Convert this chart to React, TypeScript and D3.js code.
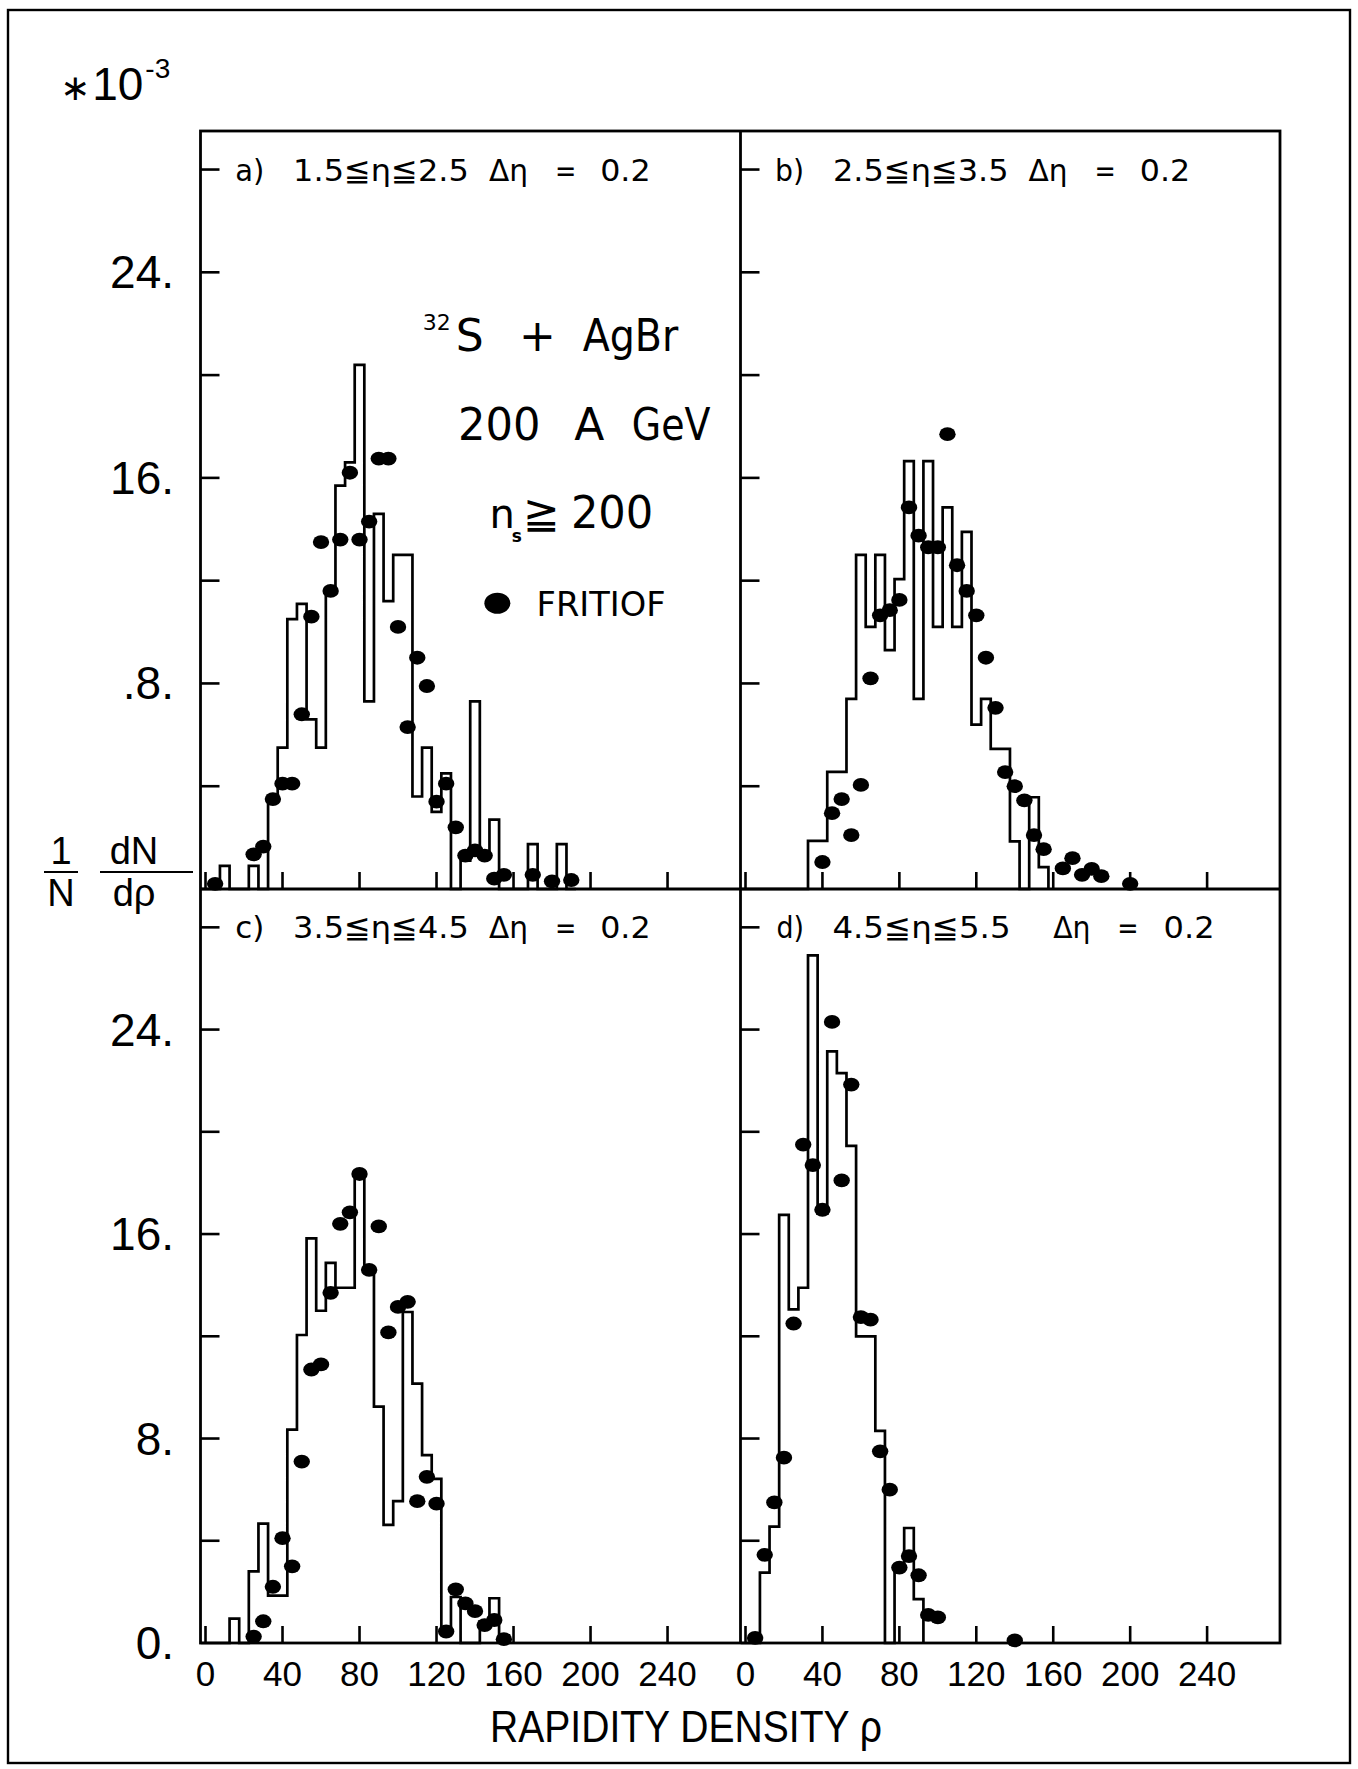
import React from 'react';
import * as d3 from 'd3';

// ---------------- data ----------------
const BIN_WIDTH = 5; // bins centred on rho = 0, 5, 10, ...

const histA = [0, 0, 0.9, 0, 0, 0.9, 0, 3.5, 5.5, 10.5, 11.1, 6.6, 5.5, 11.5, 15.7, 16.6, 20.4, 7.3, 14.6, 11.2, 13.0, 13.0, 3.6, 5.5, 3.0, 4.5, 0, 1.1, 7.3, 1.2, 2.7, 0, 0, 0, 1.75, 0, 0, 1.75, 0];
const histB = [0, 0, 0, 0, 0, 0, 0, 1.87, 1.87, 4.56, 4.56, 7.4, 13.0, 10.2, 13.0, 9.3, 12.06, 16.65, 7.4, 16.65, 10.2, 14.85, 10.2, 13.9, 6.4, 7.4, 5.45, 5.45, 1.85, 0, 3.57, 0.85];
const histC = [0, 0, 0, 0.95, 0, 2.8, 4.67, 1.85, 1.85, 8.35, 12.05, 15.83, 13.0, 14.87, 13.9, 13.9, 18.3, 14.65, 9.25, 4.62, 5.55, 12.95, 10.15, 7.35, 6.42, 0.55, 1.8, 0, 0, 0.85, 1.75, 0.3];
const histD = [0, 0, 2.75, 4.55, 16.75, 13.05, 13.9, 26.9, 16.8, 23.15, 22.3, 19.45, 12.0, 12.0, 8.3, 0, 3.05, 4.5, 1.72];

const fritiofA = [[5, 0.2], [25, 1.35], [30, 1.65], [35, 3.5], [40, 4.1], [45, 4.1], [50, 6.8], [55, 10.6], [60, 13.5], [65, 11.6], [70, 13.6], [75, 16.2], [80, 13.6], [85, 14.3], [90, 16.75], [95, 16.75], [100, 10.2], [105, 6.3], [110, 9.0], [115, 7.9], [120, 3.4], [125, 4.1], [130, 2.4], [135, 1.3], [140, 1.5], [145, 1.3], [150, 0.4], [155, 0.55], [170, 0.55], [180, 0.3], [190, 0.35]];
const fritiofB = [[40, 1.05], [45, 2.95], [50, 3.5], [55, 2.1], [60, 4.05], [65, 8.2], [70, 10.65], [75, 10.85], [80, 11.25], [85, 14.85], [90, 13.75], [95, 13.3], [100, 13.3], [105, 17.7], [110, 12.6], [115, 11.6], [120, 10.65], [125, 9.0], [130, 7.05], [135, 4.55], [140, 4.0], [145, 3.45], [150, 2.1], [155, 1.55], [165, 0.8], [170, 1.2], [175, 0.55], [180, 0.78], [185, 0.5], [200, 0.2]];
const fritiofC = [[25, 0.25], [30, 0.85], [35, 2.2], [40, 4.1], [45, 3.0], [50, 7.1], [55, 10.7], [60, 10.9], [65, 13.7], [70, 16.4], [75, 16.85], [80, 18.35], [85, 14.6], [90, 16.3], [95, 12.15], [100, 13.15], [105, 13.35], [110, 5.55], [115, 6.5], [120, 5.45], [125, 0.45], [130, 2.1], [135, 1.55], [140, 1.25], [145, 0.7], [150, 0.9], [155, 0.15]];
const fritiofD = [[5, 0.2], [10, 3.45], [15, 5.5], [20, 7.25], [25, 12.5], [30, 19.5], [35, 18.7], [40, 16.95], [45, 24.3], [50, 18.1], [55, 21.85], [60, 12.75], [65, 12.65], [70, 7.5], [75, 6.0], [80, 2.95], [85, 3.4], [90, 2.65], [95, 1.1], [100, 1.0], [140, 0.1]];

const xTicks = [0, 40, 80, 120, 160, 200, 240];
const yTicks = [4, 8, 12, 16, 20, 24, 28];
const yLabelsTop = [[24, '24.'], [16, '16.'], [8, '.8.']];
const yLabelsBottom = [[24, '24.'], [16, '16.'], [8, '8.'], [0, '0.']];

const etaRanges = ['1.5≦η≦2.5', '2.5≦η≦3.5', '3.5≦η≦4.5', '4.5≦η≦5.5'];
const panelLetters = ['a)', 'b)', 'c)', 'd)'];

// ---------------- layout ----------------
const X_LEFT = 200.5, X_MID = 740.5, X_RIGHT = 1280;
const Y_TOP = 131, Y_MID = 889, Y_BOT = 1643;
const X_DOMAIN = [-2.6, 277.9];
const Y_DOMAIN = [0, 29.5];
const INK = '#000';

const AX_FONT = '"Liberation Sans", Arial, sans-serif';
const TXT_FONT = '"DejaVu Sans", Verdana, sans-serif';

// title segment positions in rho units [start, end]
const titleLayoutABC = [[15.4, 30.5], [45.5, 136.8], [147.2, 167.5], [181.5, 192.6], [205, 231.2]];
const titleLayoutD = [[16.1, 30.4], [45.2, 137.8], [160, 179.4], [193.3, 204.4], [217.4, 243.9]];

function histPath(vals, x, y) {
  const pts = [];
  vals.forEach((v, i) => {
    const c = i * BIN_WIDTH;
    pts.push([c - BIN_WIDTH / 2, v]);
    pts.push([c + BIN_WIDTH / 2, v]);
  });
  pts.unshift([pts[0][0], 0]);
  pts.push([pts[pts.length - 1][0], 0]);
  return d3.line().x((d) => x(d[0])).y((d) => y(d[1]))(pts);
}

function Panel({ idx, x0, x1, y0, y1, hist, dots, yLabels }) {
  const x = d3.scaleLinear().domain(X_DOMAIN).range([x0, x1]);
  const y = d3.scaleLinear().domain(Y_DOMAIN).range([y1, y0]);
  const layout = idx === 3 ? titleLayoutD : titleLayoutABC;
  const texts = [panelLetters[idx], etaRanges[idx], 'Δη', '=', '0.2'];
  const ty = y(28) + 11;
  return (
    <g>
      {yTicks.map((t) => (
        <line key={'yt' + t} x1={x0} x2={x0 + 19} y1={y(t)} y2={y(t)} stroke={INK} strokeWidth={2.6} />
      ))}
      {xTicks.map((t) => (
        <line key={'xt' + t} x1={x(t)} x2={x(t)} y1={y1} y2={y1 - 17} stroke={INK} strokeWidth={2.6} />
      ))}
      <path d={histPath(hist, x, y)} fill="none" stroke={INK} strokeWidth={2.7} strokeLinejoin="miter" />
      {dots.map((d, i) => (
        <ellipse key={'p' + i} cx={x(d[0])} cy={y(d[1])} rx={8.2} ry={6.9} fill={INK} />
      ))}
      {texts.map((t, i) => (
        <text key={'tt' + i} x={x(layout[i][0])} y={ty} fontFamily={TXT_FONT} fontSize={31}
          textLength={x(layout[i][1]) - x(layout[i][0])} lengthAdjust="spacingAndGlyphs" fill={INK}>{t}</text>
      ))}
      {yLabels && yLabels.map((l) => (
        <text key={'yl' + l[0]} x={174} y={y(l[0]) + 16} textAnchor="end" fontFamily={AX_FONT} fontSize={46} fill={INK}>{l[1]}</text>
      ))}
    </g>
  );
}

export default function App() {
  const xA = d3.scaleLinear().domain(X_DOMAIN).range([X_LEFT, X_MID]);
  const yA = d3.scaleLinear().domain(Y_DOMAIN).range([Y_MID, Y_TOP]);
  const xC = xA;
  const xD = d3.scaleLinear().domain(X_DOMAIN).range([X_MID, X_RIGHT]);
  return (
    <svg width={1358} height={1769} viewBox="0 0 1358 1769"
      style={{ position: 'absolute', left: 0, top: 0, background: '#fff' }}>
      <rect x={0} y={0} width={1358} height={1769} fill="#fff" />
      {/* outer frame */}
      <rect x={8} y={10} width={1342} height={1753} fill="none" stroke={INK} strokeWidth={2.4} />

      <Panel idx={0} x0={X_LEFT} x1={X_MID} y0={Y_TOP} y1={Y_MID} hist={histA} dots={fritiofA} yLabels={yLabelsTop} />
      <Panel idx={1} x0={X_MID} x1={X_RIGHT} y0={Y_TOP} y1={Y_MID} hist={histB} dots={fritiofB} yLabels={null} />
      <Panel idx={2} x0={X_LEFT} x1={X_MID} y0={Y_MID} y1={Y_BOT} hist={histC} dots={fritiofC} yLabels={yLabelsBottom} />
      <Panel idx={3} x0={X_MID} x1={X_RIGHT} y0={Y_MID} y1={Y_BOT} hist={histD} dots={fritiofD} yLabels={null} />

      {/* panel frames */}
      <rect x={X_LEFT} y={Y_TOP} width={X_RIGHT - X_LEFT} height={Y_BOT - Y_TOP} fill="none" stroke={INK} strokeWidth={2.8} />
      <line x1={X_MID} x2={X_MID} y1={Y_TOP} y2={Y_BOT} stroke={INK} strokeWidth={2.8} />
      <line x1={X_LEFT} x2={X_RIGHT} y1={Y_MID} y2={Y_MID} stroke={INK} strokeWidth={2.8} />

      {/* x tick labels */}
      {xTicks.map((t) => (
        <text key={'lc' + t} x={xC(t)} y={1686} textAnchor="middle" fontFamily={AX_FONT} fontSize={35} fill={INK}>{t}</text>
      ))}
      {xTicks.map((t) => (
        <text key={'ld' + t} x={xD(t)} y={1686} textAnchor="middle" fontFamily={AX_FONT} fontSize={35} fill={INK}>{t}</text>
      ))}
      <text x={490} y={1742} fontFamily={AX_FONT} fontSize={44} fill={INK}
        textLength={392} lengthAdjust="spacingAndGlyphs">RAPIDITY  DENSITY  ρ</text>

      {/* y axis title */}
      <text x={60} y={100} fontFamily={AX_FONT} fontSize={46} fill={INK}>
        <tspan fontFamily={TXT_FONT} fontSize={36}>∗</tspan>
        <tspan dx={2}>10</tspan>
        <tspan dx={2} dy={-22} fontSize={28}>-3</tspan>
      </text>
      <text x={61} y={864} textAnchor="middle" fontFamily={AX_FONT} fontSize={38} fill={INK}>1</text>
      <line x1={44} x2={78} y1={872} y2={872} stroke={INK} strokeWidth={2.2} />
      <text x={61} y={906} textAnchor="middle" fontFamily={AX_FONT} fontSize={38} fill={INK}>N</text>
      <text x={134} y={864} textAnchor="middle" fontFamily={AX_FONT} fontSize={38} fill={INK}>dN</text>
      <line x1={100} x2={193} y1={872} y2={872} stroke={INK} strokeWidth={2.2} />
      <text x={134} y={906} textAnchor="middle" fontFamily={AX_FONT} fontSize={38} fill={INK}>dρ</text>

      {/* annotations in panel a */}
      <text x={xA(112.9)} y={yA(20.94)} fontFamily={TXT_FONT} fontSize={44} fill={INK}>
        <tspan fontSize={22} dy={-21}>32</tspan>
        <tspan dy={21} dx={5}>S</tspan>
      </text>
      <text x={xA(162.8)} y={yA(20.94)} fontFamily={TXT_FONT} fontSize={44} fill={INK}>+</text>
      <text x={xA(195.9)} y={yA(20.94)} fontFamily={TXT_FONT} fontSize={44} fill={INK}
        textLength={xA(245.6) - xA(195.9)} lengthAdjust="spacingAndGlyphs">AgBr</text>
      <text x={xA(131.2)} y={yA(17.46)} fontFamily={TXT_FONT} fontSize={44} fill={INK}
        textLength={xA(174) - xA(131.2)} lengthAdjust="spacingAndGlyphs">200</text>
      <text x={xA(191.6)} y={yA(17.46)} fontFamily={TXT_FONT} fontSize={44} fill={INK}>A</text>
      <text x={xA(221.4)} y={yA(17.46)} fontFamily={TXT_FONT} fontSize={44} fill={INK}
        textLength={xA(262.3) - xA(221.4)} lengthAdjust="spacingAndGlyphs">GeV</text>
      <text x={xA(147.5)} y={yA(14.05)} fontFamily={TXT_FONT} fontSize={40} fill={INK}>
        <tspan>n</tspan>
        <tspan dx={-3} dy={14} fontSize={17} fontWeight="bold">s</tspan>
        <tspan dx={1} dy={-14} fontSize={44}>≧</tspan>
      </text>
      <text x={xA(189.8)} y={yA(14.05)} fontFamily={TXT_FONT} fontSize={44} fill={INK}
        textLength={xA(232.6) - xA(189.8)} lengthAdjust="spacingAndGlyphs">200</text>
      <ellipse cx={xA(151.6)} cy={yA(11.12)} rx={13} ry={10.5} fill={INK} />
      <text x={xA(172)} y={yA(10.63)} fontFamily={TXT_FONT} fontSize={33} fill={INK}
        textLength={xA(239) - xA(172)} lengthAdjust="spacingAndGlyphs">FRITIOF</text>
    </svg>
  );
}
